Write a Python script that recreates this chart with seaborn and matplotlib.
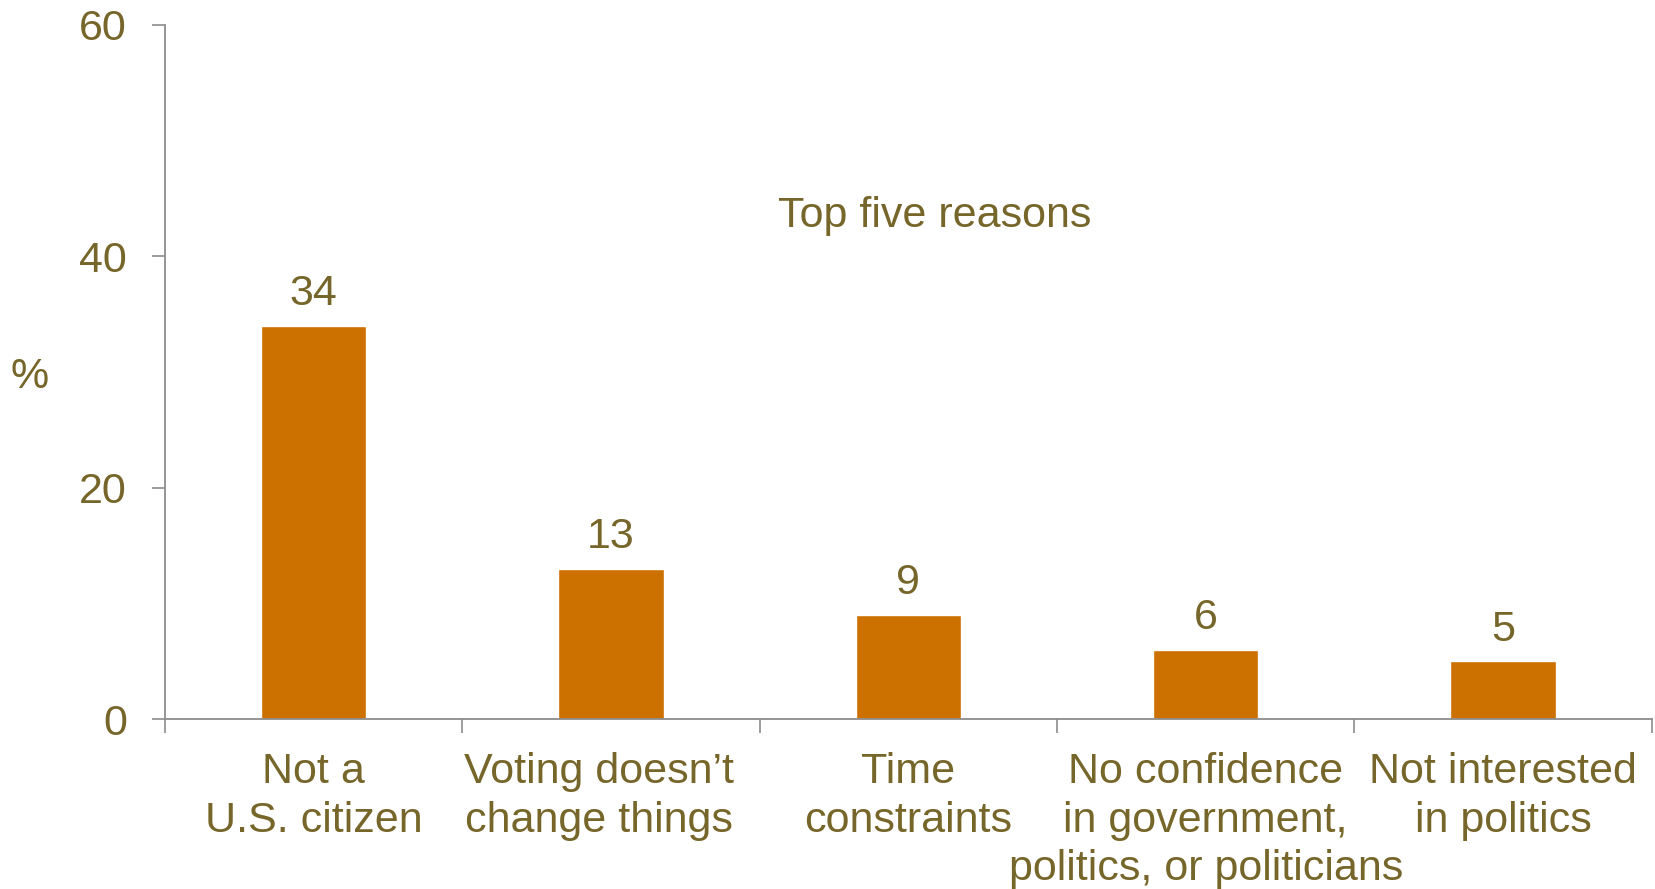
import matplotlib
matplotlib.use("Agg")
import matplotlib.pyplot as plt
import matplotlib.transforms as mtransforms
import seaborn as sns
import pandas as pd
from matplotlib.ticker import FixedLocator

categories = [
    "Not a\nU.S. citizen",
    "Voting doesn\u2019t\nchange things",
    "Time\nconstraints",
    "No confidence\nin government,\npolitics, or politicians",
    "Not interested\nin politics",
]
values = [34, 13, 9, 6, 5]
y_ticks = [0, 20, 40, 60]

TEXT = "#76662a"
BAR = "#cc7000"
AXIS = "#8c8c8c"

sns.set_style("white")
plt.rcParams["font.family"] = ["Liberation Sans", "DejaVu Sans"]

df = pd.DataFrame({"reason": categories, "pct": values})

fig = plt.figure(figsize=(16.55, 8.89), dpi=100)
ax = fig.add_axes([0.0997, 0.1912, 0.8983, 0.7808])

sns.barplot(data=df, x="reason", y="pct", color=BAR, width=0.355,
            saturation=1, ax=ax)

ax.set_xlim(-0.5, len(categories) - 0.5)
ax.set_ylim(0, 60)
ax.set_yticks(y_ticks)
ax.set_xlabel("")
ax.set_ylabel("")

fs = 31
ax.tick_params(axis="y", labelsize=fs, labelcolor=TEXT, color=AXIS,
               length=9.5, width=1.2, pad=18, left=True)
ax.tick_params(axis="x", which="major", labelsize=fs, labelcolor=TEXT,
               length=0, pad=24)
ax.xaxis.set_minor_locator(FixedLocator([i - 0.5 for i in range(len(categories) + 1)]))
ax.tick_params(axis="x", which="minor", color=AXIS, length=10, width=1.2,
               bottom=True)
labels = ax.get_xticklabels()
for lab in labels:
    lab.set_linespacing(1.27)
# the second label sits a little left of its bar in the original
shift = mtransforms.ScaledTranslation(-12.5 / 100, 0, fig.dpi_scale_trans)
labels[1].set_transform(labels[1].get_transform() + shift)

sns.despine(ax=ax, top=True, right=True)
for side in ["left", "bottom"]:
    ax.spines[side].set_color(AXIS)
    ax.spines[side].set_linewidth(1.3)

for i, v in enumerate(values):
    ax.annotate(str(v), (i, v), xytext=(0, 22.7), textcoords="offset points",
                ha="center", va="center", fontsize=fs, color=TEXT)

ax.text(2.09, 43.5, "Top five reasons", ha="center", va="center",
        fontsize=fs, color=TEXT)
fig.text(29.5 / 1655, 1 - 377 / 889, "%", ha="center", va="center",
         fontsize=fs, color=TEXT)

fig.savefig("out.png", dpi=100)
